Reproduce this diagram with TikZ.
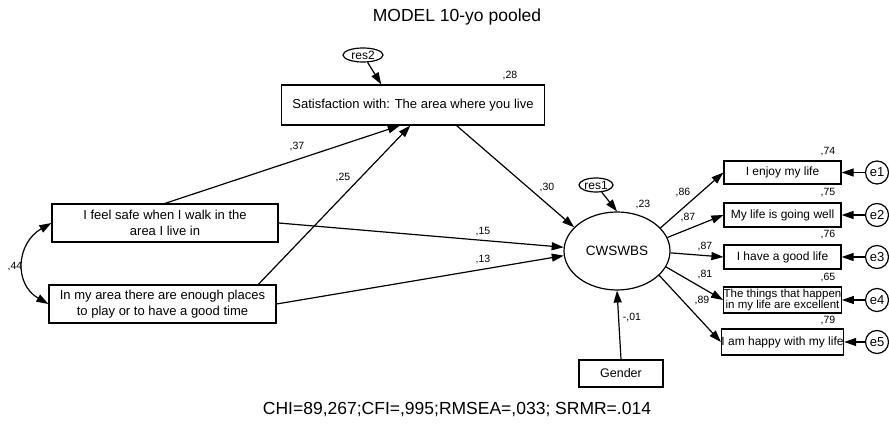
\documentclass[tikz,border=0pt]{standalone}
\usepackage{fontspec}
\setmainfont{Liberation Sans}
\usetikzlibrary{arrows.meta,shapes.geometric,calc}
\tikzset{
  sembox/.style={draw,line width=1.2pt,rectangle,inner sep=0pt,align=center,font=\fontsize{13}{16}\selectfont},
  rbox/.style={draw,line width=1.2pt,rectangle,inner sep=0pt,align=center,minimum width=117pt,font=\fontsize{12}{14}\selectfont},
  errc/.style={draw,line width=1.2pt,circle,inner sep=0pt,minimum size=23pt,font=\fontsize{13}{15}\selectfont},
  resel/.style={draw,line width=1.2pt,ellipse,inner sep=0pt,font=\fontsize{12}{14}\selectfont},
  lbl/.style={inner sep=0pt,font=\fontsize{10.5}{12}\selectfont},
  arr/.style={-{Triangle[length=12pt,width=8pt]},line width=1.2pt},
  darr/.style={{Triangle[length=12pt,width=8pt]}-{Triangle[length=12pt,width=8pt]},line width=1.2pt}
}
\begin{document}
\begin{tikzpicture}[x=1pt,y=-1pt]
\useasboundingbox (0,0) rectangle (889,435);
% title and fit line
\node[inner sep=0pt,font=\fontsize{17.5}{20}\selectfont] (title) at (457,17) {MODEL 10-yo pooled};
\node[inner sep=0pt,font=\fontsize{17.5}{20}\selectfont] (fit) at (457,410) {CHI=89,267;CFI=,995;RMSEA=,033; SRMR=.014};
% nodes
\node[sembox,minimum width=263pt,minimum height=40pt] (sat) at (413,105) {Satisfaction with: The area where you live};
\node[resel,minimum width=40pt,minimum height=14pt] (res2) at (363,55) {res2};
\node[sembox,minimum width=226pt,minimum height=38pt] (b1) at (165,223) {I feel safe when I walk in the\\area I live in};
\node[sembox,minimum width=227pt,minimum height=38pt] (b2) at (162.5,304) {In my area there are enough places\\to play or to have a good time};
\node[draw,line width=1.2pt,ellipse,minimum width=106pt,minimum height=78pt,inner sep=0pt,font=\fontsize{13.5}{16}\selectfont] (cw) at (617,251) {CWSWBS};
\node[resel,minimum width=34pt,minimum height=14pt] (res1) at (596,185) {res1};
\node[sembox,minimum width=84pt,minimum height=27pt,font=\fontsize{12.5}{15}\selectfont] (gender) at (621,373.5) {Gender};
\node[rbox,minimum height=23pt] (r1) at (782.5,172.5) {I enjoy my life};
\node[rbox,minimum height=24pt] (r2) at (782.5,215) {My life is going well};
\node[rbox,minimum height=24pt] (r3) at (782.5,257) {I have a good life};
\node[rbox,minimum height=26pt,font=\fontsize{11.5}{11.5}\selectfont] (r4) at (782.5,300) {The things that happen\\in my life are excellent};
\node[rbox,minimum height=26pt] (r5) at (782.5,342) {I am happy with my life};
\node[errc] (e1) at (877,172.5) {e1};
\node[errc] (e2) at (877,215) {e2};
\node[errc] (e3) at (877,257) {e3};
\node[errc] (e4) at (877,300) {e4};
\node[errc] (e5) at (877,342) {e5};
% connectors
\draw[arr] (res2) -- ($(sat.north west)!0.38!(sat.north east)$);
\draw[arr] (b1.north) -- ($(sat.south west)!0.45!(sat.south east)$);
\draw[arr] ($(b2.north west)!0.92!(b2.north east)$) -- ($(sat.south west)!0.49!(sat.south east)$);
\draw[darr] (b1.west) .. controls +(-35,20) and +(-35,-20) .. (b2.west);
\draw[arr] ($(sat.south west)!0.665!(sat.south east)$) -- (cw.151);
\draw[arr] (b1.east) -- (cw.176);
\draw[arr] (b2.east) -- (cw.185);
\draw[arr] (res1) -- (cw.north);
\draw[arr] (gender.north) -- (cw.south);
\draw[arr] (cw.28) -- (r1.west);
\draw[arr] (cw.15) -- (r2.west);
\draw[arr] (cw.358) -- (r3.west);
\draw[arr] (cw.-18) -- (r4.west);
\draw[arr] (cw.-30) -- (r5.west);
\draw[arr] (e1) -- (r1.east);
\draw[arr] (e2) -- (r2.east);
\draw[arr] (e3) -- (r3.east);
\draw[arr] (e4) -- (r4.east);
\draw[arr] (e5) -- (r5.east);
% labels
\node[lbl] (l28) at (510,76) {,28};
\node[lbl] (l37) at (297,147) {,37};
\node[lbl] (l25) at (343,178) {,25};
\node[lbl] (l30) at (547,188) {,30};
\node[lbl] (l15) at (483,232) {,15};
\node[lbl] (l13) at (483,260) {,13};
\node[lbl] (l44) at (15,267) {,44};
\node[lbl] (l23) at (643,205) {,23};
\node[lbl] (l01) at (632,318) {-,01};
\node[lbl] (l86) at (683,193) {,86};
\node[lbl] (l87a) at (688,218) {,87};
\node[lbl] (l87b) at (705,247) {,87};
\node[lbl] (l81) at (705,275) {,81};
\node[lbl] (l89) at (702,301) {,89};
\node[lbl] (l74) at (828,152) {,74};
\node[lbl] (l75) at (828,193) {,75};
\node[lbl] (l76) at (828,235) {,76};
\node[lbl] (l65) at (828,278) {,65};
\node[lbl] (l79) at (828,321) {,79};
\end{tikzpicture}
\end{document}
